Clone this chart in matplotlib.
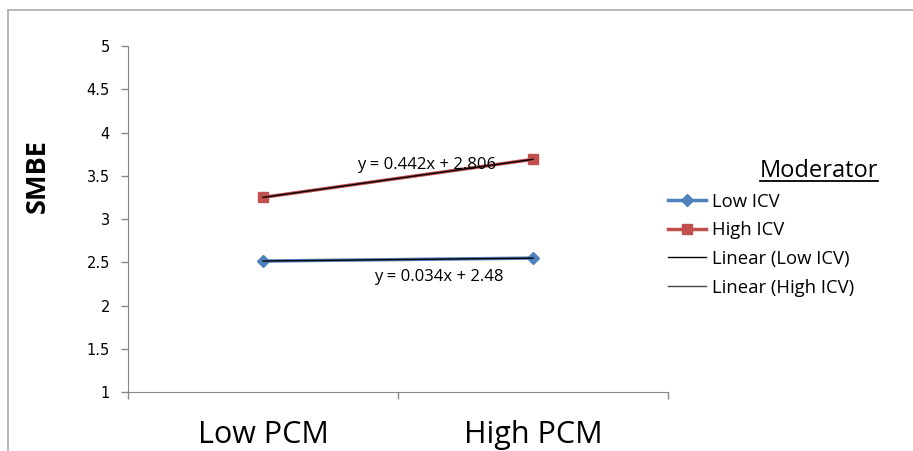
import numpy as np
import matplotlib
matplotlib.use("Agg")
import matplotlib.pyplot as plt
from matplotlib.lines import Line2D

categories = ["Low PCM", "High PCM"]
low_icv = [2.514, 2.548]
high_icv = [3.25, 3.69]
y_ticks = [1, 1.5, 2, 2.5, 3, 3.5, 4, 4.5, 5]

plt.rcParams['font.family'] = ['Open Sans', 'DejaVu Sans']

fig = plt.figure(figsize=(9.13, 4.51), dpi=100)
ax = fig.add_axes([0.1402, 0.1308, 0.5915, 0.7672])

x = np.arange(len(categories))
blue = '#4F81BD'
red = '#C0504D'

ax.plot(x, low_icv, color=blue, lw=2.5, marker='D', ms=6, label='Low ICV')
ax.plot(x, high_icv, color=red, lw=2.5, marker='s', ms=7, label='High ICV')

# linear trendlines (x in Excel numbering 1, 2)
xe = x + 1
fit_low = np.polyfit(xe, low_icv, 1)
fit_high = np.polyfit(xe, high_icv, 1)
ax.plot(x, np.polyval(fit_low, xe), color='black', lw=1, label='Linear (Low ICV)')
ax.plot(x, np.polyval(fit_high, xe), color='black', lw=1, label='Linear (High ICV)')

ax.text(0.604, 3.62, "y = 0.442x + 2.806", fontsize=12, ha='center', va='center')
ax.text(0.652, 2.33, "y = 0.034x + 2.48", fontsize=12, ha='center', va='center')

ax.set_xlim(-0.5, 1.5)
ax.set_ylim(1, 5)
ax.set_yticks(y_ticks)
ax.set_yticklabels([f"{v:g}" for v in y_ticks], family='DejaVu Sans', fontsize=10.5)
ax.set_xticks([-0.5, 0.5, 1.5])
ax.set_xticklabels([])
ax.set_xticks(x, minor=True)
ax.set_xticklabels(categories, minor=True, fontsize=22)
ax.tick_params(axis='x', which='minor', length=0, pad=20)
ax.tick_params(axis='both', which='major', color='#888888', length=5, width=1)
ax.tick_params(axis='y', pad=8)
for s in ['top', 'right']:
    ax.spines[s].set_visible(False)
for s in ['left', 'bottom']:
    ax.spines[s].set_color('#888888')

fig.text(0.041, 0.61, "SMBE", rotation=90, fontsize=19.5, fontweight='bold',
         ha='center', va='center')

handles, labels = ax.get_legend_handles_labels()
handles[3] = Line2D([], [], color='#444444', lw=1)
leg = fig.legend(handles, labels, loc='upper left', bbox_to_anchor=(0.713, 0.61),
                 frameon=False, fontsize=13.3, handlelength=2.1, labelspacing=0.58,
                 handletextpad=0.3)

t = fig.text(0.8324, 0.62, "Moderator", fontsize=17, ha='left', va='center')
fig.canvas.draw()
bb = t.get_window_extent().transformed(fig.transFigure.inverted())
fig.add_artist(Line2D([bb.x0, bb.x1], [bb.y0 + 0.006, bb.y0 + 0.006], color='black', lw=1.3))

# outer chart frame (top and left visible)
fig.add_artist(Line2D([0.009, 1.0], [0.978, 0.978], color='#aaaaaa', lw=1.2))
fig.add_artist(Line2D([0.009, 0.009], [0.0, 0.978], color='#aaaaaa', lw=1.2))

fig.savefig("out.png", dpi=100)
